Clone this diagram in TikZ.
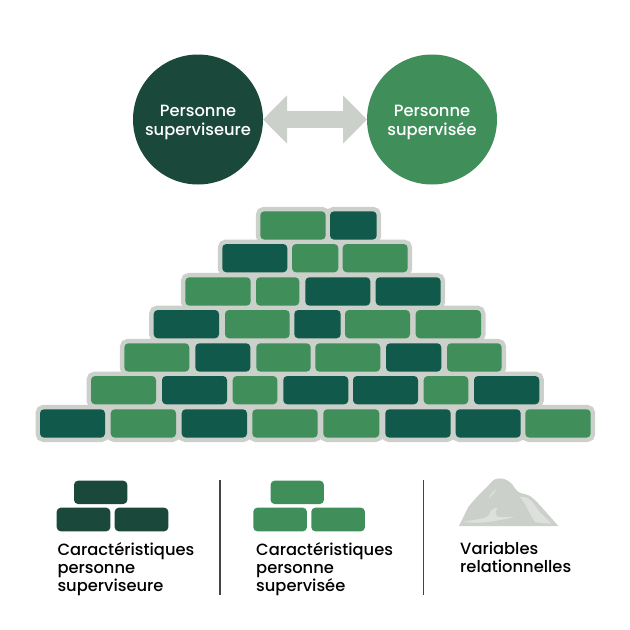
\documentclass[tikz,border=0pt]{standalone}
\usepackage{fontspec}
\setmainfont{Poppins Medium}
\usepackage{xcolor}
\usetikzlibrary{arrows.meta}
\definecolor{brickdark}{HTML}{10594B}
\definecolor{brickgreen}{HTML}{408F5A}
\definecolor{inkdark}{HTML}{1A483B}
\definecolor{mortar}{HTML}{CBD0CA}
\definecolor{rockpale}{HTML}{DDE0DC}
\definecolor{rule}{HTML}{444444}
\tikzset{
  personne/.style={circle,minimum size=130pt,inner sep=0pt,outer sep=0pt,align=center,text=white,font=\fontsize{16.3}{18.5}\selectfont},
  legende/.style={anchor=north west,inner sep=0pt,align=left,text=black,font=\fontsize{16.3}{18}\selectfont},
}
\newcommand{\wallrows}{
  211.3/{260.3/325.7/brickgreen,330/376.7/brickdark},
  244/{222.3/287.3/brickdark,292/338.3/brickgreen,342.7/407.7/brickgreen},
  277.3/{185.3/250.7/brickgreen,256/299.3/brickgreen,305.3/370.3/brickdark,375.7/440.7/brickdark},
  310/{153.7/219/brickdark,225/289.7/brickgreen,294.3/340.7/brickdark,345/410/brickgreen,415.7/481/brickgreen},
  343.3/{124.3/189.3/brickgreen,195.3/250.3/brickdark,256.3/310.7/brickgreen,315.3/380.3/brickgreen,386/441.3/brickdark,447/501.7/brickgreen},
  376/{91/156/brickgreen,162/227/brickdark,232.7/277.3/brickgreen,283.3/348.3/brickdark,353/418/brickdark,423.7/468.3/brickgreen,474/539.3/brickdark},
  409.3/{40/105/brickdark,110.7/176/brickgreen,181.7/247/brickdark,252.3/317.7/brickgreen,323.3/379.3/brickgreen,385.3/450.7/brickdark,455.7/520.7/brickdark,525.3/590.7/brickgreen}}
\begin{document}
\begin{tikzpicture}[x=1pt,y=-1pt]
\useasboundingbox (0,0) rectangle (630,630);
% persons
\node[personne,fill=inkdark] (chef) at (198,119.5) {\rule{0pt}{17pt}Personne\\superviseure};
\node[personne,fill=brickgreen] (supervise) at (432,119.5) {\rule{0pt}{17pt}Personne\\supervisée};
\draw[mortar,line width=16.6pt,{Triangle[length=24pt,width=47pt]}-{Triangle[length=24pt,width=47pt]}] (chef) -- (supervise);
% wall, mortar first
\foreach \y/\row in \wallrows{
  \foreach \a/\b/\col in \row{
    \draw[mortar,line width=9pt,rounded corners=4pt] (\a,\y) rectangle (\b,\y+28.3);
  }
}
\foreach \y/\row in \wallrows{
  \foreach \a/\b/\col in \row{
    \fill[\col,rounded corners=4pt] (\a,\y) rectangle (\b,\y+28.3);
  }
}
% legend bricks
\foreach \dx/\col in {0/inkdark,196.6/brickgreen}{
  \fill[\col,rounded corners=4pt] (74+\dx,480.7) rectangle (127.3+\dx,504);
  \fill[\col,rounded corners=4pt] (56.7+\dx,507.7) rectangle (110.3+\dx,531.3);
  \fill[\col,rounded corners=4pt] (114.7+\dx,507.7) rectangle (168.3+\dx,531.3);
}
% rock
\fill[mortar] (459,526) -- (468.3,507) .. controls (473,501) and (476,498) .. (480,493.7) .. controls (484,490) and (487,487) .. (490,483.7) .. controls (493,480) and (495,478.7) .. (497,478.7) .. controls (500,478) and (503,478.5) .. (505,479.3) .. controls (508,480.5) and (510,482) .. (511.7,483.7) .. controls (514,487) and (516,490) .. (518.3,492) .. controls (522,494) and (527,494) .. (530,496) .. controls (534,499) and (537,502) .. (540,505.3) -- (558.3,526) -- cycle;
\fill[rockpale] (463.3,522) .. controls (468,520) and (480,520) .. (486.7,517) .. controls (490,515) and (490,510) .. (493.3,508.7) .. controls (495,507.5) and (497,507.5) .. (497.7,508) .. controls (496,510) and (495,512) .. (495.7,513.7) .. controls (496.5,516) and (497,517) .. (498.3,517) -- (515,517) .. controls (505,519) and (497,521) .. (488,522) .. controls (480,523) and (470,523) .. (463.3,522) -- cycle;
\fill[rockpale] (520,497) .. controls (524,496) and (528,498) .. (530,500) .. controls (534,503) and (536,507) .. (538.3,510.3) .. controls (541,514) and (547,519) .. (551.7,523.7) .. controls (546,523.5) and (540,523) .. (535,522) .. controls (533,519) and (532,517) .. (530,513.7) .. controls (528,510) and (527,507) .. (525,503.7) .. controls (523,501) and (521,499) .. (520,497) -- cycle;
\fill[rockpale] (488.3,498.7) .. controls (490,495) and (493,491) .. (496.7,488.7) .. controls (495,492) and (491,497) .. (488.3,498.7) -- cycle;
% rules
\coordinate (r1a) at (220,480);
\coordinate (r1b) at (220,595);
\coordinate (r2a) at (423.3,480);
\coordinate (r2b) at (423.3,595);
\draw[rule,line width=1.2pt] (r1a) -- (r1b);
\draw[rule,line width=1.2pt] (r2a) -- (r2b);
% legend text
\node[legende] (l1) at (57.3,542) {Caractéristiques\\personne\\superviseure};
\node[legende] (l2) at (256,542) {Caractéristiques\\personne\\supervisée};
\node[legende] (l3) at (460,542) {Variables\\relationnelles};
\end{tikzpicture}
\end{document}
